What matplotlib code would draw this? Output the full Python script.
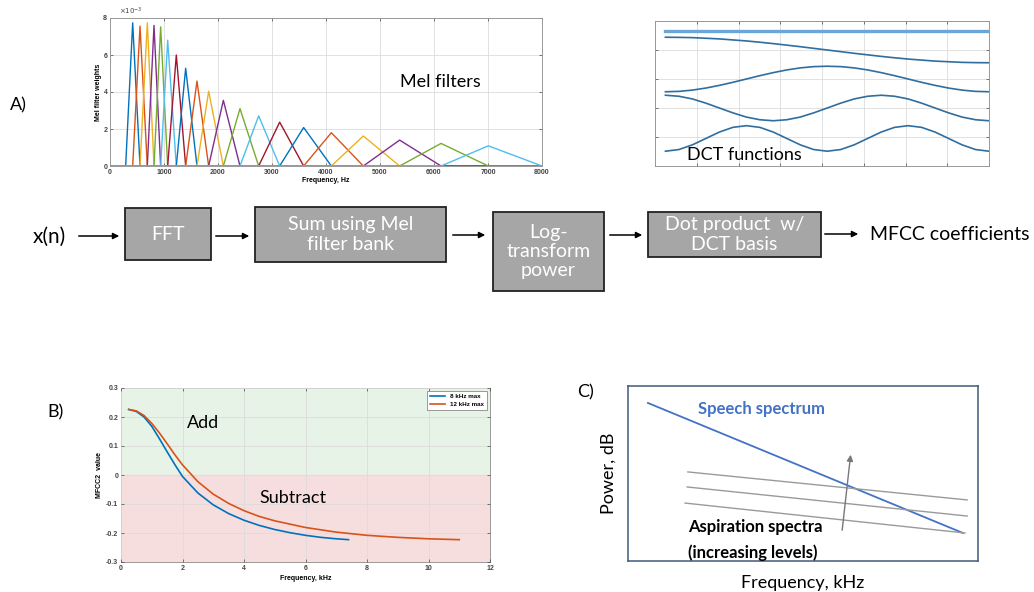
import numpy as np
import matplotlib
matplotlib.use("Agg")
import matplotlib.pyplot as plt
from matplotlib.patches import Rectangle

plt.rcParams['font.family'] = ['Lato', 'DejaVu Sans']

# ---- data ----
# Mel filter bank: triangle edges (Hz) and peak heights (x1e-3)
mel_edges = [290, 420, 556, 691, 815, 938, 1068, 1228, 1401, 1611, 1827,
             2099, 2407, 2753, 3142, 3586, 4099, 4691, 5364, 6130, 7006, 8000]
mel_peaks = [7.74, 7.56, 7.74, 7.60, 7.52, 6.80, 6.00, 5.28, 4.59, 4.04,
             3.55, 3.10, 2.71, 2.37, 2.08, 1.80, 1.62, 1.40, 1.22, 1.09]

# DCT basis functions (values read at 25 even steps)
dct0 = [1.0] * 25
dct1 = [1.00, .99, .97, .92, .87, .79, .71, .61, .50, .38, .26, .13, 0,
        -.13, -.26, -.38, -.50, -.61, -.71, -.79, -.87, -.92, -.97, -.99, -1.0]
dct2 = [-1.0, -.97, -.87, -.71, -.50, -.26, 0, .26, .50, .71, .87, .97, 1.0,
        .97, .87, .71, .50, .26, 0, -.26, -.50, -.71, -.87, -.97, -1.0]
dct3 = [1.0, .92, .71, .38, 0, -.38, -.71, -.92, -1.0, -.92, -.71, -.38, 0,
        .38, .71, .92, 1.0, .92, .71, .38, 0, -.38, -.71, -.92, -1.0]
dct4 = [-1.0, -.87, -.50, 0, .50, .87, 1.0, .87, .50, 0, -.50, -.87, -1.0,
        -.87, -.50, 0, .50, .87, 1.0, .87, .50, 0, -.50, -.87, -1.0]

# MFCC2 weighting vs frequency
khz_8 = [0.25, 0.5, 0.75, 1.0, 1.25, 1.5, 1.75, 2.0, 2.5, 3.0, 3.5, 4.0,
         4.5, 5.0, 5.5, 6.0, 6.5, 7.0, 7.4]
mfcc2_8 = [.226, .219, .200, .168, .125, .080, .036, -.005, -.062, -.103,
           -.133, -.156, -.174, -.188, -.199, -.208, -.215, -.220, -.223]
khz_12 = [0.25, 0.5, 0.75, 1.0, 1.25, 1.5, 1.75, 2.0, 2.5, 3.0, 3.5, 4.0,
          4.5, 5.0, 6.0, 7.0, 8.0, 9.0, 10.0, 11.0]
mfcc2_12 = [.226, .221, .205, .178, .145, .108, .070, .035, -.023, -.066,
            -.098, -.123, -.143, -.158, -.181, -.197, -.208, -.215, -.220, -.223]

# schematic spectra (panel C, normalised units)
speech_x = [0.057, 0.957]
speech_db = [0.903, 0.16]
asp_x = [[0.171, 0.969], [0.169, 0.969], [0.163, 0.963]]
asp_db = [[0.509, 0.349], [0.423, 0.257], [0.331, 0.16]]

matlab = ['#0072BD', '#D95319', '#EDB120', '#7E2F8E', '#77AC30', '#4DBEEE', '#A2142F']

W, H = 1034, 592
fig = plt.figure(figsize=(W / 100, H / 100), dpi=100)


def px_axes(x0, y0, x1, y1):
    return fig.add_axes([x0 / W, 1 - y1 / H, (x1 - x0) / W, (y1 - y0) / H])


def ftext(x, y, s, **kw):
    fig.text(x / W, 1 - y / H, s, **kw)


tick_font = dict(family='Liberation Sans', weight='bold', size=5)


def matlab_style(ax):
    ax.grid(True, color='#dcdcdc', lw=0.6)
    ax.tick_params(direction='in', top=True, right=True, length=2.5,
                   width=0.5, colors='#444', pad=2)
    for s in ax.spines.values():
        s.set_color('#999')
        s.set_linewidth(0.7)
    for lab in ax.get_xticklabels() + ax.get_yticklabels():
        lab.set_fontproperties(matplotlib.font_manager.FontProperties(**tick_font))


# ---- A: mel filters ----
ax = px_axes(110, 18, 542, 166)
for i, p in enumerate(mel_peaks):
    l, c, r = mel_edges[i], mel_edges[i + 1], mel_edges[i + 2]
    ax.plot([0, l, c, r, 8000], [0, 0, p, 0, 0], color=matlab[i % 7], lw=1.0)
ax.set_xlim(0, 8000)
ax.set_ylim(0, 8)
ax.set_xticks(range(0, 8001, 1000))
ax.set_yticks([0, 2, 4, 6, 8])
matlab_style(ax)
ax.set_xlabel('Frequency, Hz', labelpad=1, **tick_font)
ax.set_ylabel('Mel filter weights', labelpad=1, **tick_font)
ax.text(0.02, 1.01, r'$\times10^{-3}$', transform=ax.transAxes, fontsize=5,
        family='DejaVu Sans', color='#444', va='bottom')
ftext(400, 82, 'Mel filters', fontsize=13, va='center')
ftext(10, 105, 'A)', fontsize=13, va='center')

# ---- DCT functions ----
ax2 = px_axes(655, 21, 989, 166)
xs = np.linspace(0.25, 8, 25)
ax2.plot(xs, 4.22 + 0.44 * np.array(dct0), color='#6aa6d8', lw=2.4)
for vals, off in zip([dct1, dct2, dct3, dct4], [4.0, 3.0, 2.0, 0.95]):
    ax2.plot(xs, off + 0.44 * np.array(vals), color='#2f6e9f', lw=1.2)
ax2.set_xlim(0, 8)
ax2.set_ylim(0, 5)
ax2.set_xticks(range(9))
ax2.set_yticks(range(6))
matlab_style(ax2)
ax2.set_xticklabels([])
ax2.set_yticklabels([])
ftext(687, 155, 'DCT functions', fontsize=13, va='center')

# ---- flowchart ----
ov = fig.add_axes([0, 0, 1, 1], facecolor='none')
ov.set_xlim(0, W)
ov.set_ylim(H, 0)
ov.axis('off')

boxes = [(125, 208, 211, 260, 'FFT'),
         (255, 207, 446, 262, 'Sum using Mel\nfilter bank'),
         (493, 212, 604, 291, 'Log-\ntransform\npower'),
         (648, 212, 821, 257, 'Dot product  w/\nDCT basis')]
for x0, y0, x1, y1, s in boxes:
    ov.add_patch(Rectangle((x0, y0), x1 - x0, y1 - y0, facecolor='#a6a6a6',
                           edgecolor='#222', lw=1.3))
    ov.text((x0 + x1) / 2, (y0 + y1) / 2, s, color='white', fontsize=14,
            ha='center', va='center', linespacing=1.15)

arrows = [(76, 122, 236), (213, 252, 236), (450, 488, 235), (607, 645, 235), (822, 861, 234)]
for x0, x1, y in arrows:
    ov.annotate('', xy=(x1, y), xytext=(x0, y),
                arrowprops=dict(arrowstyle='-|>', color='black', lw=1.1, mutation_scale=9))
ov.text(33, 237, 'x(n)', fontsize=15, va='center')
ov.text(870, 235, 'MFCC coefficients', fontsize=14, va='center')

# ---- B: MFCC2 ----
ax3 = px_axes(121, 388, 490, 562)
ax3.axhspan(0, 0.3, color='#e7f3e7', zorder=0)
ax3.axhspan(-0.3, 0, color='#f7dede', zorder=0)
ax3.plot(khz_8, mfcc2_8, color=matlab[0], lw=1.2, label='8 kHz max', zorder=3)
ax3.plot(khz_12, mfcc2_12, color=matlab[1], lw=1.2, label='12 kHz max', zorder=3)
ax3.set_xlim(0, 12)
ax3.set_ylim(-0.3, 0.3)
ax3.set_xticks(range(0, 13, 2))
ax3.set_yticks([-0.3, -0.2, -0.1, 0, 0.1, 0.2, 0.3])
ax3.set_yticklabels(['-0.3', '-0.2', '-0.1', '0', '0.1', '0.2', '0.3'])
matlab_style(ax3)
ax3.set_axisbelow(False)
ax3.set_xlabel('Frequency, kHz', labelpad=2, **tick_font)
ax3.set_ylabel('MFCC2  value', labelpad=2, **tick_font)
leg = ax3.legend(loc='upper right', prop=dict(family='Liberation Sans', weight='bold', size=4.5),
                 fancybox=False, edgecolor='#888', handlelength=2.5, borderpad=0.4,
                 framealpha=1)
leg.get_frame().set_linewidth(0.6)
ftext(187, 423, 'Add', fontsize=13, va='center')
ftext(259, 498, 'Subtract', fontsize=13, va='center')
ftext(47, 412, 'B)', fontsize=13, va='center')

# ---- C: schematic ----
ax4 = px_axes(628, 386, 978, 561)
ax4.set_xlim(0, 1)
ax4.set_ylim(0, 1)
ax4.set_xticks([])
ax4.set_yticks([])
for s in ax4.spines.values():
    s.set_color('#41587a')
    s.set_linewidth(1.1)
ax4.plot(speech_x, speech_db, color='#4472c4', lw=1.3)
for xx, yy in zip(asp_x, asp_db):
    ax4.plot(xx, yy, color='#9a9a9a', lw=1.0)
ax4.annotate('', xy=(0.637, 0.623), xytext=(0.611, 0.16),
             arrowprops=dict(arrowstyle='-|>', color='#777', lw=1.0, mutation_scale=9))
ax4.text(0.2, 0.869, 'Speech spectrum', color='#4472c4', fontsize=12,
         weight='bold', va='center')
ax4.text(0.171, 0.194, 'Aspiration spectra', fontsize=12, weight='bold', va='center')
ax4.text(0.171, 0.046, '(increasing levels)', fontsize=12, weight='bold', va='center')
ax4.set_ylabel('Power, dB', fontsize=13, labelpad=8)
ax4.set_xlabel('Frequency, kHz', fontsize=13, labelpad=10)
ftext(577, 392, 'C)', fontsize=13, va='center')

fig.savefig('out.png', dpi=100)
